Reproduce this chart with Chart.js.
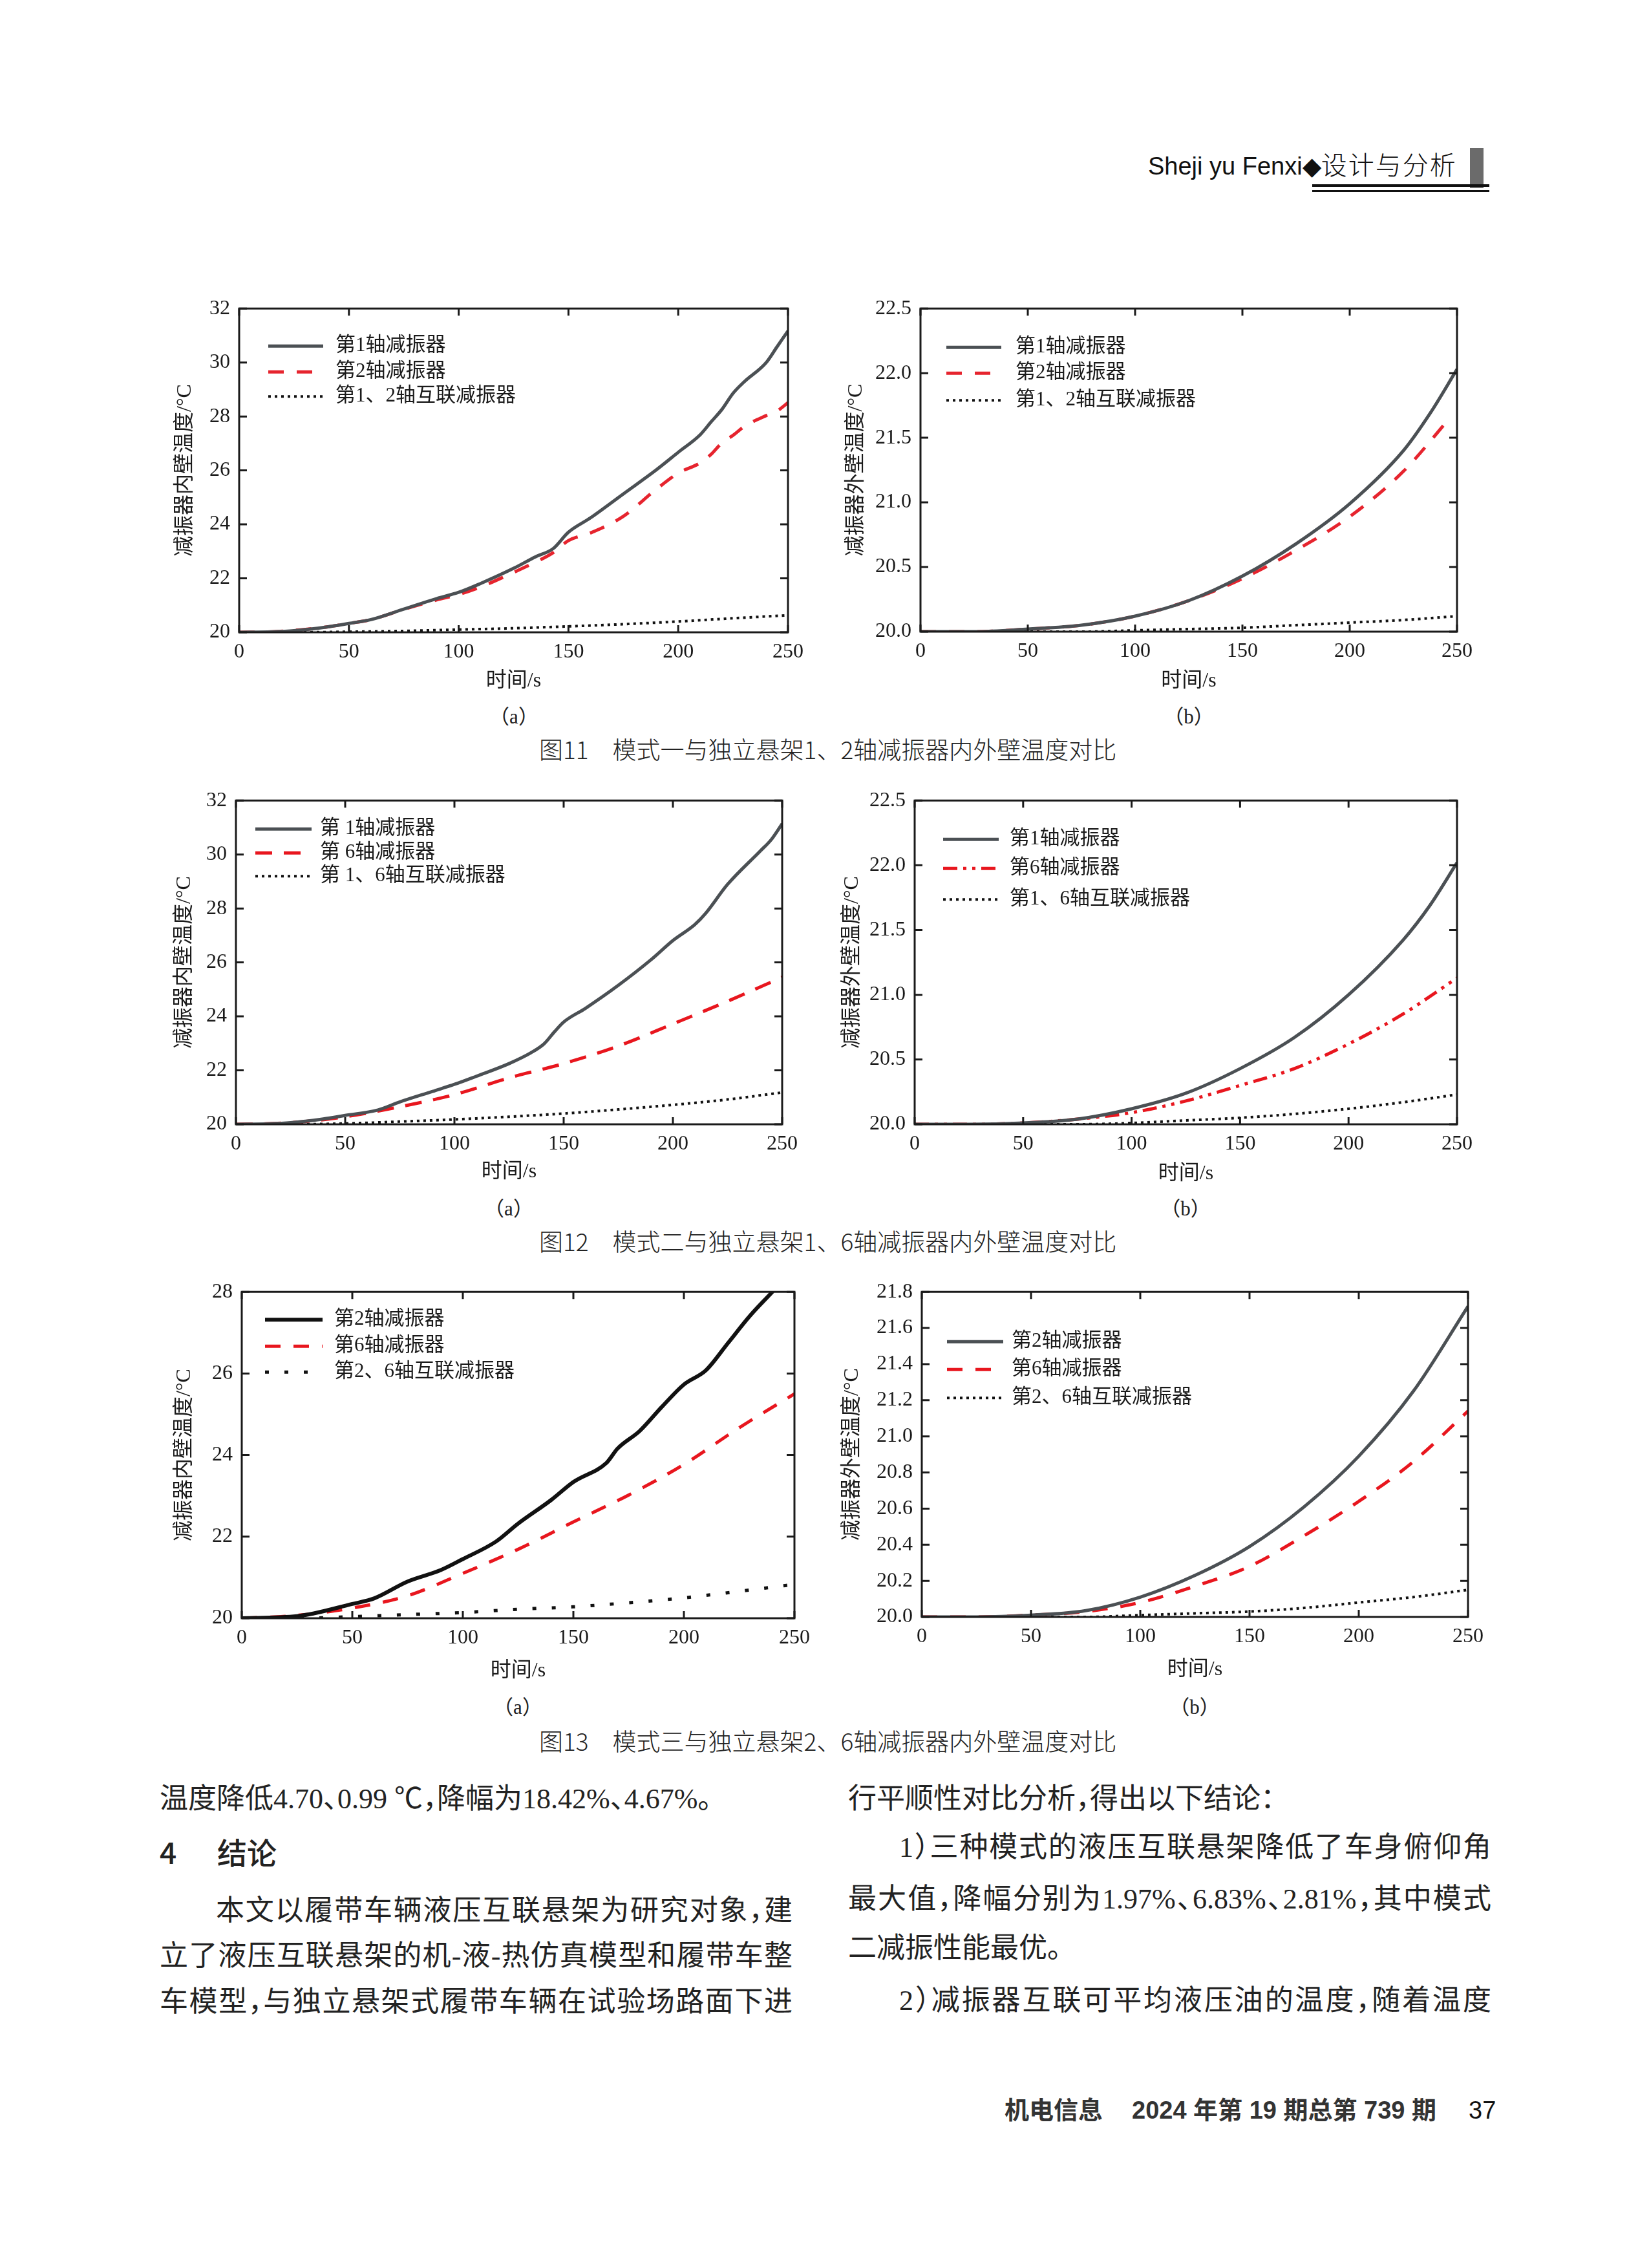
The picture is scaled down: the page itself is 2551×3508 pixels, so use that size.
<!DOCTYPE html>
<html>
<head>
<meta charset="utf-8">
<script src="https://cdn.jsdelivr.net/npm/chart.js@4.4.1/dist/chart.umd.min.js"></script>
<style>
html, body { margin: 0; padding: 0; background: #fff; }
body { width: 2551px; height: 3508px; position: relative; overflow: hidden; }
canvas { position: absolute; }
.t { position: absolute; white-space: nowrap; line-height: 1; color: #222; }
.cap { font-family: "Noto Sans CJK SC", sans-serif; font-size: 37px; font-weight: 300; }
.sub { font-family: "Liberation Serif", "Noto Sans CJK SC", serif; font-size: 31px; transform: translateX(-50%); }
.body { font-family: "Liberation Serif", "Noto Sans CJK SC", serif; font-size: 44px; font-feature-settings: "halt" 1; }
.j { text-align: justify; text-align-last: justify; }
.foot { font-family: "Liberation Sans", "Noto Sans CJK SC", sans-serif; font-size: 38px; font-weight: bold; color: #333; }
</style>
</head>
<body>

<div class="t" style="left:1776px;top:233px;font-family:'Liberation Sans',sans-serif;font-size:38px;color:#111">Sheji yu Fenxi◆<span style="font-family:'Noto Sans CJK SC';font-weight:300;font-size:40px;letter-spacing:2px">设计与分析</span></div>
<div style="position:absolute;left:2274px;top:229px;width:21px;height:62px;background:#6b6b6b"></div>
<div style="position:absolute;left:2030px;top:285px;width:274px;height:4px;background:#111"></div>
<div style="position:absolute;left:2030px;top:294px;width:274px;height:3px;background:#111"></div>

<div class="t sub" style="left:795px;top:1093px">（a）</div>
<div class="t sub" style="left:1839px;top:1093px">（b）</div>
<div class="t cap" style="left:834px;top:1140px">图11　模式一与独立悬架1、2轴减振器内外壁温度对比</div>

<div class="t sub" style="left:787px;top:1854px">（a）</div>
<div class="t sub" style="left:1834px;top:1854px">（b）</div>
<div class="t cap" style="left:834px;top:1901px">图12　模式二与独立悬架1、6轴减振器内外壁温度对比</div>

<div class="t sub" style="left:801px;top:2625px">（a）</div>
<div class="t sub" style="left:1848px;top:2625px">（b）</div>
<div class="t cap" style="left:834px;top:2674px">图13　模式三与独立悬架2、6轴减振器内外壁温度对比</div>

<div class="t body" style="left:247px;top:2761px">温度降低4.70、0.99 ℃，降幅为18.42%、4.67%。</div>
<div class="t" style="left:247px;top:2840px;font-family:'Noto Sans CJK SC';font-size:46px;font-weight:500">4</div>
<div class="t" style="left:336px;top:2840px;font-family:'Noto Sans CJK SC';font-size:46px;font-weight:500">结论</div>
<div class="t body j" style="left:334px;top:2934px;width:892px">本文以履带车辆液压互联悬架为研究对象，建</div>
<div class="t body j" style="left:247px;top:3004px;width:979px">立了液压互联悬架的机-液-热仿真模型和履带车整</div>
<div class="t body j" style="left:247px;top:3075px;width:979px">车模型，与独立悬架式履带车辆在试验场路面下进</div>

<div class="t body" style="left:1312px;top:2761px">行平顺性对比分析，得出以下结论：</div>
<div class="t body j" style="left:1391px;top:2836px;width:916px">1）三种模式的液压互联悬架降低了车身俯仰角</div>
<div class="t body j" style="left:1312px;top:2916px;width:995px">最大值，降幅分别为1.97%、6.83%、2.81%，其中模式</div>
<div class="t body" style="left:1312px;top:2992px">二减振性能最优。</div>
<div class="t body j" style="left:1391px;top:3073px;width:916px">2）减振器互联可平均液压油的温度，随着温度</div>

<div class="t foot" style="left:1554px;top:3245px">机电信息</div>
<div class="t foot" style="left:1751px;top:3245px">2024 年第 19 期总第 739 期</div>
<div class="t" style="left:2272px;top:3245px;font-family:'Liberation Sans',sans-serif;font-size:38px;color:#111">37</div>

<script>
// axis ticks
const xTicks = [0, 50, 100, 150, 200, 250];
const yTicksInner = [20, 22, 24, 26, 28, 30, 32];
const yTicksOuter = [20.0, 20.5, 21.0, 21.5, 22.0, 22.5];
const yTicks13a = [20, 22, 24, 26, 28];
const yTicks13b = [20.0, 20.2, 20.4, 20.6, 20.8, 21.0, 21.2, 21.4, 21.6, 21.8];
const grid25 = [0, 25, 50, 75, 100, 125, 150, 175, 200, 225, 250];
const grid25Fine = [0, 25, 50, 75, 100, 125, 150, 175, 200, 225, 237.5, 250];

// fig 11 (a)
const t11aAxle = [0, 15, 25, 40, 50, 60, 75, 90, 100, 110, 125, 135, 143, 150, 160, 175, 190, 200, 210, 215, 220, 225, 230, 240, 245, 250];
const fig11aAxle1 = [20.0, 20.02, 20.06, 20.2, 20.33, 20.47, 20.86, 21.25, 21.48, 21.81, 22.37, 22.8, 23.1, 23.71, 24.24, 25.13, 26.02, 26.67, 27.32, 27.8, 28.27, 28.86, 29.28, 29.99, 30.58, 31.17];
const fig11aAxle2 = [20.0, 20.02, 20.07, 20.2, 20.33, 20.47, 20.85, 21.2, 21.4, 21.68, 22.22, 22.6, 22.95, 23.4, 23.68, 24.3, 25.3, 25.9, 26.28, 26.6, 27.03, 27.3, 27.62, 28.03, 28.2, 28.51];
const fig11aLinked = [20.0, 20.0, 20.02, 20.05, 20.1, 20.15, 20.22, 20.3, 20.4, 20.52, 20.63];

// fig 11 (b)
const t11bAxle2 = [0, 25, 50, 75, 100, 125, 150, 175, 200, 225, 246];
const fig11bAxle1 = [20.0, 20.0, 20.02, 20.05, 20.12, 20.24, 20.43, 20.68, 20.99, 21.4, 21.69, 22.03];
const fig11bAxle2 = [20.0, 20.0, 20.02, 20.05, 20.12, 20.24, 20.41, 20.63, 20.89, 21.24, 21.64];
const fig11bLinked = [20.0, 20.0, 20.0, 20.0, 20.01, 20.02, 20.03, 20.05, 20.07, 20.09, 20.12];

// fig 12 (a)
const t12aAxle1 = [0, 15, 25, 40, 50, 65, 75, 90, 100, 110, 125, 135, 141, 146, 150, 160, 175, 190, 200, 210, 215, 225, 240, 245, 250];
const fig12aAxle1 = [20.0, 20.02, 20.06, 20.2, 20.33, 20.53, 20.83, 21.22, 21.48, 21.78, 22.25, 22.65, 22.98, 23.45, 23.79, 24.3, 25.15, 26.1, 26.81, 27.4, 27.82, 28.89, 30.13, 30.55, 31.14];
const fig12aAxle6 = [20.0, 20.06, 20.28, 20.65, 21.1, 21.72, 22.25, 22.9, 23.72, 24.56, 25.45];
const fig12aLinked = [20.0, 20.0, 20.03, 20.1, 20.18, 20.28, 20.4, 20.55, 20.72, 20.92, 21.18];

// fig 12 (b)
const fig12bAxle1 = [20.0, 20.0, 20.01, 20.04, 20.12, 20.24, 20.43, 20.67, 21.0, 21.42, 21.69, 22.02];
const fig12bAxle6 = [20.0, 20.0, 20.01, 20.04, 20.09, 20.18, 20.3, 20.43, 20.62, 20.85, 21.13];
const fig12bLinked = [20.0, 20.0, 20.0, 20.0, 20.01, 20.03, 20.05, 20.08, 20.12, 20.17, 20.23];

// fig 13 (a)
const t13aAxle2 = [0, 25, 50, 60, 75, 90, 100, 115, 125, 140, 150, 165, 170, 180, 190, 200, 210, 220, 230, 240, 250];
const fig13aAxle2 = [20.0, 20.05, 20.35, 20.49, 20.9, 21.18, 21.45, 21.88, 22.32, 22.9, 23.34, 23.81, 24.16, 24.59, 25.18, 25.73, 26.08, 26.75, 27.42, 28.0, 28.6];
const fig13aAxle6 = [20.0, 20.07, 20.25, 20.55, 21.1, 21.69, 22.36, 23.02, 23.77, 24.67, 25.5];
const fig13aLinked = [20.0, 20.0, 20.04, 20.09, 20.14, 20.22, 20.28, 20.38, 20.5, 20.66, 20.83];

// fig 13 (b)
const fig13bAxle2 = [20.0, 20.0, 20.01, 20.035, 20.11, 20.23, 20.39, 20.61, 20.89, 21.25, 21.72];
const fig13bAxle6 = [20.0, 20.0, 20.01, 20.03, 20.08, 20.17, 20.28, 20.45, 20.64, 20.86, 21.14];
const fig13bLinked = [20.0, 20.0, 20.0, 20.0, 20.01, 20.02, 20.03, 20.05, 20.08, 20.11, 20.15];

const ink = '#1a1a1a';
const serif = '"Liberation Serif", "Noto Sans CJK SC", serif';

const gray = { borderColor: '#4b5054', borderWidth: 5 };
const black = { borderColor: '#111111', borderWidth: 6 };
const redDash = { borderColor: '#e6242e', borderWidth: 5, borderDash: [24, 20] };
const redDashDot = { borderColor: '#e8161e', borderWidth: 5, borderDash: [22, 9, 5, 9, 5, 9] };
const dots = { borderColor: '#111111', borderWidth: 4, borderDash: [4, 6] };
const sparseDots = { borderColor: '#111111', borderWidth: 5, borderDash: [6, 24] };

function line(label, t, v, style) {
    return Object.assign({
        label: label,
        data: t.map((x, i) => ({ x: x, y: v[i] })),
        pointRadius: 0,
        fill: false,
        cubicInterpolationMode: 'monotone'
    }, style);
}

// box frame with inward ticks on all four sides
const frameTicks = {
    id: 'frameTicks',
    afterDatasetsDraw(chart) {
        const { ctx, chartArea: { left, right, top, bottom }, scales: { x, y } } = chart;
        ctx.save();
        ctx.strokeStyle = ink;
        ctx.lineWidth = 3;
        ctx.setLineDash([]);
        ctx.beginPath();
        x.ticks.forEach(t => {
            const px = x.getPixelForValue(t.value);
            ctx.moveTo(px, bottom); ctx.lineTo(px, bottom - 11);
            ctx.moveTo(px, top); ctx.lineTo(px, top + 11);
        });
        y.ticks.forEach(t => {
            const py = y.getPixelForValue(t.value);
            ctx.moveTo(left, py); ctx.lineTo(left + 12, py);
            ctx.moveTo(right, py); ctx.lineTo(right - 12, py);
        });
        ctx.stroke();
        ctx.strokeRect(left, top, right - left, bottom - top);
        ctx.restore();
    }
};

// legend drawn inside the plot, top left
const innerLegend = {
    id: 'innerLegend',
    afterDatasetsDraw(chart, args, opts) {
        const { ctx, chartArea: { left, top } } = chart;
        ctx.save();
        ctx.font = '31px ' + serif;
        ctx.textBaseline = 'middle';
        ctx.fillStyle = ink;
        chart.data.datasets.forEach((ds, i) => {
            const yy = top + opts.rows[i];
            ctx.save();
            ctx.strokeStyle = ds.borderColor;
            ctx.lineWidth = ds.borderWidth;
            ctx.setLineDash(ds.borderDash || []);
            ctx.beginPath();
            ctx.moveTo(left + opts.x0, yy);
            ctx.lineTo(left + opts.x1, yy);
            ctx.stroke();
            ctx.restore();
            ctx.fillText(ds.label, left + opts.tx, yy);
        });
        ctx.restore();
    }
};

function makeChart(box, yTicks, dec, yTitle, sets, legend) {
    const yW = box.gap + 19;
    const xH = box.title + 19;
    const cv = document.createElement('canvas');
    cv.width = yW + box.w + 40;
    cv.height = 30 + box.h + xH;
    cv.style.left = (box.x - yW) + 'px';
    cv.style.top = (box.y - 30) + 'px';
    document.body.appendChild(cv);

    const tickFont = { family: serif, size: 32 };
    const titleFont = { family: serif, size: 32 };

    return new Chart(cv.getContext('2d'), {
        type: 'line',
        data: { datasets: sets },
        options: {
            responsive: false,
            animation: false,
            devicePixelRatio: 1,
            layout: { padding: { left: 0, top: 30, right: 40, bottom: 0 } },
            plugins: {
                legend: { display: false },
                tooltip: { enabled: false },
                innerLegend: legend
            },
            scales: {
                x: {
                    type: 'linear',
                    min: xTicks[0],
                    max: xTicks[xTicks.length - 1],
                    afterBuildTicks: s => { s.ticks = xTicks.map(v => ({ value: v })); },
                    ticks: { padding: 11, font: tickFont, color: ink, maxRotation: 0, autoSkip: false, callback: v => String(v) },
                    grid: { display: false, drawTicks: false },
                    border: { display: false },
                    title: { display: true, text: '时间/s', font: titleFont, color: ink, padding: 0 },
                    afterFit: s => { s.height = xH; }
                },
                y: {
                    type: 'linear',
                    min: yTicks[0],
                    max: yTicks[yTicks.length - 1],
                    afterBuildTicks: s => { s.ticks = yTicks.map(v => ({ value: v })); },
                    ticks: { padding: 14, font: tickFont, color: ink, autoSkip: false, callback: v => Number(v).toFixed(dec) },
                    grid: { display: false, drawTicks: false },
                    border: { display: false },
                    title: { display: true, text: yTitle, font: titleFont, color: ink, padding: 0 },
                    afterFit: s => { s.width = yW; }
                }
            }
        },
        plugins: [frameTicks, innerLegend]
    });
}

makeChart({ x: 370, y: 474, w: 849, h: 504, gap: 84, title: 76 }, yTicksInner, 0, '减振器内壁温度/°C', [
    line('第1轴减振器', t11aAxle, fig11aAxle1, gray),
    line('第2轴减振器', t11aAxle, fig11aAxle2, redDash),
    line('第1、2轴互联减振器', grid25, fig11aLinked, dots)
], { x0: 45, x1: 130, tx: 149, rows: [58, 98, 136] });

makeChart({ x: 1424, y: 474, w: 830, h: 503, gap: 100, title: 77 }, yTicksOuter, 1, '减振器外壁温度/°C', [
    line('第1轴减振器', grid25Fine, fig11bAxle1, gray),
    line('第2轴减振器', t11bAxle2, fig11bAxle2, redDash),
    line('第1、2轴互联减振器', grid25, fig11bLinked, dots)
], { x0: 40, x1: 125, tx: 147, rows: [60, 100, 142] });

makeChart({ x: 365, y: 1235, w: 845, h: 504, gap: 80, title: 74 }, yTicksInner, 0, '减振器内壁温度/°C', [
    line('第 1轴减振器', t12aAxle1, fig12aAxle1, gray),
    line('第 6轴减振器', grid25, fig12aAxle6, Object.assign({}, redDash, { borderColor: '#e8161e', borderDash: [26, 18] })),
    line('第 1、6轴互联减振器', grid25, fig12aLinked, dots)
], { x0: 30, x1: 117, tx: 130, rows: [44, 81, 117] });

makeChart({ x: 1415, y: 1235, w: 839, h: 504, gap: 97, title: 77 }, yTicksOuter, 1, '减振器外壁温度/°C', [
    line('第1轴减振器', grid25Fine, fig12bAxle1, gray),
    line('第6轴减振器', grid25, fig12bAxle6, redDashDot),
    line('第1、6轴互联减振器', grid25, fig12bLinked, dots)
], { x0: 44, x1: 130, tx: 147, rows: [60, 105, 153] });

makeChart({ x: 374, y: 1995, w: 855, h: 508, gap: 89, title: 82 }, yTicks13a, 0, '减振器内壁温度/°C', [
    line('第2轴减振器', t13aAxle2, fig13aAxle2, black),
    line('第6轴减振器', grid25, fig13aAxle6, Object.assign({}, redDash, { borderColor: '#e8161e' })),
    line('第2、6轴互联减振器', grid25, fig13aLinked, sparseDots)
], { x0: 36, x1: 125, tx: 143, rows: [43, 84, 124] });

makeChart({ x: 1426, y: 1995, w: 845, h: 506, gap: 108, title: 82 }, yTicks13b, 1, '减振器外壁温度/°C', [
    line('第2轴减振器', grid25, fig13bAxle2, gray),
    line('第6轴减振器', grid25, fig13bAxle6, Object.assign({}, redDash, { borderColor: '#e8161e' })),
    line('第2、6轴互联减振器', grid25, fig13bLinked, dots)
], { x0: 39, x1: 126, tx: 139, rows: [77, 120, 164] });
</script>
</body>
</html>
